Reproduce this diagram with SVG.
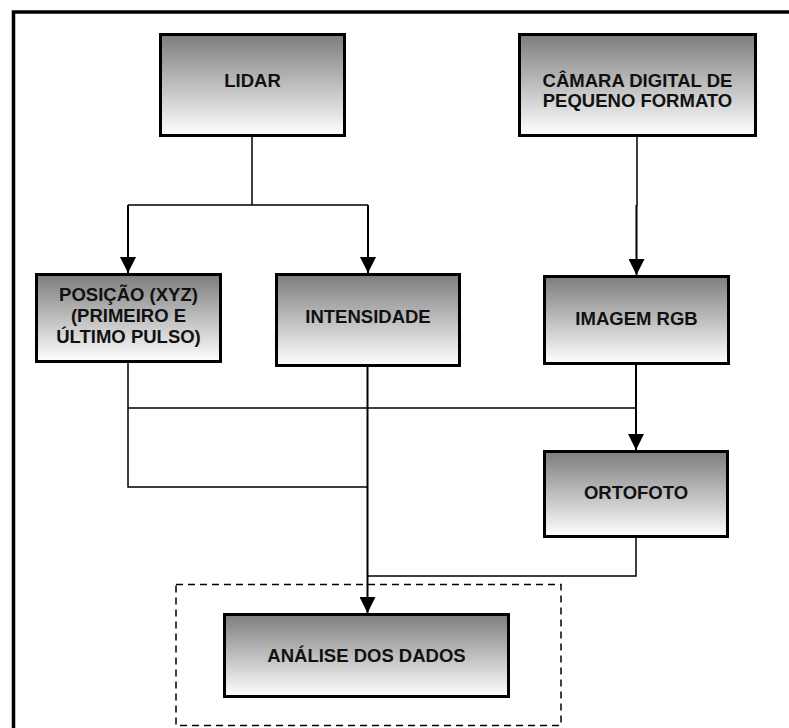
<svg xmlns="http://www.w3.org/2000/svg" width="789" height="728" viewBox="0 0 789 728">
<style>
.box{fill:url(#g);stroke:#000;stroke-width:3}
.t{font-family:"Liberation Sans",Arial,sans-serif;font-weight:bold;font-size:18.5px;fill:#111;text-anchor:middle}
.c{fill:none;stroke:#000;stroke-width:1.5}
.a{fill:none;stroke:#000;stroke-width:2;marker-end:url(#arr)}
</style>
<defs>
<linearGradient id="g" x1="0" y1="0" x2="0" y2="1">
<stop offset="0" stop-color="#7d7d7d"/>
<stop offset="1" stop-color="#ffffff"/>
</linearGradient>
<marker id="arr" viewBox="0 0 16 16" refX="16" refY="8" markerWidth="16" markerHeight="16" markerUnits="userSpaceOnUse" orient="auto">
<path d="M0,0 L16,8 L0,16 z" fill="#000"/>
</marker>
</defs>
<rect width="789" height="728" fill="#fff"/>
<path d="M13.5,728 V12 H789" fill="none" stroke="#000" stroke-width="3.5"/>
<rect x="176" y="584.5" width="385" height="141" fill="none" stroke="#000" stroke-width="1.5" stroke-dasharray="7,5"/>
<g id="connectors">
<path class="c" d="M252,137 V205 M128,205 H368"/>
<path class="a" d="M128,205 V273"/>
<path class="a" d="M368,205 V273"/>
<path class="c" d="M637,137 V205 H636.5"/>
<path class="a" d="M636.5,205 V275"/>
<path class="c" d="M128,363 V487 H368 M128,408 H636"/>
<path class="a" d="M636,365 V450"/>
<path class="a" d="M367.5,367 V613"/>
<path class="c" d="M636,538 V576 H367"/>
</g>
<g id="lidar">
<rect class="box" x="160.5" y="34.5" width="184" height="101"/>
<text class="t" x="252.5" y="87">LIDAR</text>
</g>
<g id="camera">
<rect class="box" x="519.5" y="34.5" width="236" height="101"/>
<text class="t" x="637.5" y="87">CÂMARA DIGITAL DE</text>
<text class="t" x="637.5" y="107">PEQUENO FORMATO</text>
</g>
<g id="posicao">
<rect class="box" x="36.5" y="274.5" width="184" height="87"/>
<text class="t" x="128.5" y="301">POSIÇÃO (XYZ)</text>
<text class="t" x="128.5" y="322">(PRIMEIRO E</text>
<text class="t" x="128.5" y="343">ÚLTIMO PULSO)</text>
</g>
<g id="intensidade">
<rect class="box" x="276.5" y="274.5" width="183" height="91"/>
<text class="t" x="368" y="323">INTENSIDADE</text>
</g>
<g id="imagem">
<rect class="box" x="544.5" y="276.5" width="184" height="87"/>
<text class="t" x="636.5" y="325">IMAGEM RGB</text>
</g>
<g id="ortofoto">
<rect class="box" x="544.5" y="451.5" width="183" height="85"/>
<text class="t" x="636" y="499">ORTOFOTO</text>
</g>
<g id="analise">
<rect class="box" x="224.5" y="614.5" width="284" height="82"/>
<text class="t" x="366.5" y="662">ANÁLISE DOS DADOS</text>
</g>
</svg>
